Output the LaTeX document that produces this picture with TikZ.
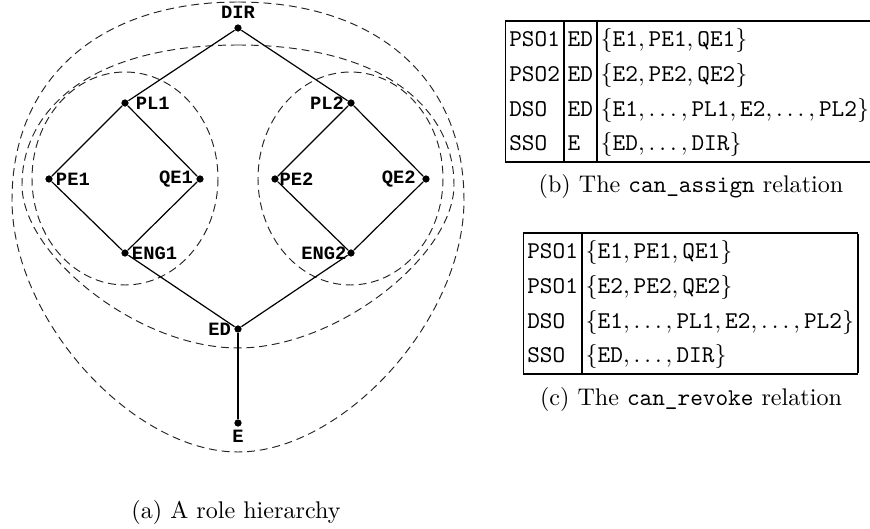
\documentclass[tikz,border=0pt]{standalone}
\usepackage{fontspec}
\newfontfamily\figfont{Liberation Mono}
\usetikzlibrary{positioning}

\tikzset{
  role/.style={circle, fill, inner sep=0pt, minimum size=3pt},
  rolelabel/.style={font=\figfont\bfseries\fontsize{7.8}{9}\selectfont, inner sep=1pt},
  ring/.style={dash pattern=on 3.3pt off 2pt, line width=0.4pt, black!85},
  edge/.style={line width=0.5pt},
  relation/.style={anchor=north west, inner sep=0pt},
}
\setlength{\arrayrulewidth}{0.8pt}

\begin{document}
\begin{tikzpicture}[x=0.415pt, y=-0.415pt]
    \useasboundingbox (0,0) rectangle (870,529);

    % scopes drawn round the roles
    \draw[ring] (125,178.5) ellipse [x radius=93, y radius=106.5];
    \draw[ring] (350.5,178.5) ellipse [x radius=92.5, y radius=106.5];
    \draw[ring] (238,45) .. controls (386,45) and (454,110) .. (454,185)
        .. controls (454,255) and (338,348) .. (238,348)
        .. controls (138,348) and (22,255) .. (22,185)
        .. controls (22,110) and (90,45) .. (238,45) -- cycle;
    \draw[ring] (238,2) .. controls (378,2) and (464,80) .. (464,200)
        .. controls (464,320) and (343,452) .. (238,452)
        .. controls (133,452) and (12,320) .. (12,200)
        .. controls (12,80) and (98,2) .. (238,2) -- cycle;

    % roles
    \node[role, label={[rolelabel, label distance=1pt]above:DIR}] (DIR) at (238,28) {};
    \node[role, label={[rolelabel, label distance=1.6pt]right:PL1}] (PL1) at (125,103) {};
    \node[role, label={[rolelabel]left:PL2}] (PL2) at (351,103) {};
    \node[role, label={[rolelabel]right:PE1}] (PE1) at (49,179) {};
    \node[role, label={[rolelabel]left:QE1}] (QE1) at (200,179) {};
    \node[role, label={[rolelabel, label distance=-1pt]right:PE2}] (PE2) at (275,179) {};
    \node[role, label={[rolelabel, label distance=1.4pt]left:QE2}] (QE2) at (426,179) {};
    \node[role, label={[rolelabel]right:ENG1}] (ENG1) at (125,253) {};
    \node[role, label={[rolelabel, label distance=-1pt]left:ENG2}] (ENG2) at (351,253) {};
    \node[role, label={[rolelabel]left:ED}] (ED) at (238,329) {};
    \node[role, label={[rolelabel]below:E}] (E) at (238,423) {};

    \foreach \a/\b in {DIR/PL1, DIR/PL2, PL1/PE1, PL1/QE1, PE1/ENG1, QE1/ENG1,
        PL2/PE2, PL2/QE2, PE2/ENG2, QE2/ENG2, ENG1/ED, ENG2/ED, ED/E}
        \draw[edge] (\a) -- (\b);

    \node (capa) at (236,512) {(a) A role hierarchy};

    % the two relations
    \node[relation] (assign) at (505,20) {%
        \renewcommand{\arraystretch}{1.2}\setlength{\tabcolsep}{1.6pt}%
        \begin{tabular}{|l|l|l|}
            \hline
            \texttt{PSO1} & \texttt{ED} & $\{\mathtt{E1}, \mathtt{PE1}, \mathtt{QE1}\}$\\
            \texttt{PSO2} & \texttt{ED} & $\{\mathtt{E2}, \mathtt{PE2}, \mathtt{QE2}\}$\\
            \texttt{DSO}  & \texttt{ED} & $\{\mathtt{E1}, \ldots, \mathtt{PL1}, \mathtt{E2}, \ldots, \mathtt{PL2}\}$\\
            \texttt{SSO}  & \texttt{E}  & $\{\mathtt{ED}, \ldots, \mathtt{DIR}\}$\\
            \hline
        \end{tabular}};
    \node (capb) at (691,186) {(b) The \texttt{can\_assign} relation};

    \node[relation] (revoke) at (523,232) {%
        \renewcommand{\arraystretch}{1.2}\setlength{\tabcolsep}{1.6pt}%
        \begin{tabular}{|l|l|}
            \hline
            \texttt{PSO1} & $\{\mathtt{E1}, \mathtt{PE1}, \mathtt{QE1}\}$\\
            \texttt{PSO1} & $\{\mathtt{E2}, \mathtt{PE2}, \mathtt{QE2}\}$\\
            \texttt{DSO}  & $\{\mathtt{E1}, \ldots, \mathtt{PL1}, \mathtt{E2}, \ldots, \mathtt{PL2}\}$\\
            \texttt{SSO}  & $\{\mathtt{ED}, \ldots, \mathtt{DIR}\}$\\
            \hline
        \end{tabular}};
    \node (capc) at (691,399) {(c) The \texttt{can\_revoke} relation};

\end{tikzpicture}
\end{document}
